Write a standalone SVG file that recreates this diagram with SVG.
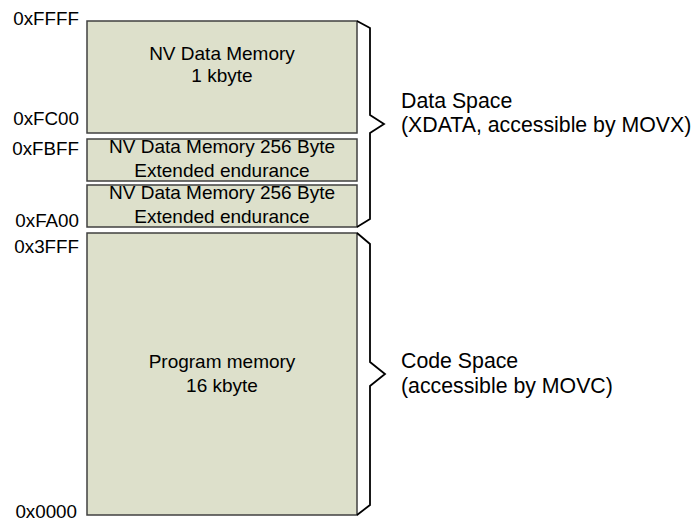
<svg xmlns="http://www.w3.org/2000/svg" width="696" height="523" viewBox="0 0 696 523">
<style>
.box{fill:#dde0cb;stroke:#404040;stroke-width:1.5}
.t{font-family:"Liberation Sans",Arial,sans-serif;fill:#000}
.bt{font-size:19px;text-anchor:middle}
.addr{font-size:18.8px;text-anchor:end}
.lbl{font-size:21.3px}
.brace{fill:none;stroke:#000;stroke-width:1.8;stroke-linejoin:miter}
</style>
<rect width="696" height="523" fill="#fff"/>
<g id="nv1k">
<rect class="box" x="87" y="21" width="270" height="112"/>
<text class="t bt" x="222" y="60">NV Data Memory</text>
<text class="t bt" x="222" y="82">1 kbyte</text>
</g>
<g id="nv256a">
<rect class="box" x="87" y="139" width="270" height="42"/>
<text class="t bt" x="222" y="153">NV Data Memory 256 Byte</text>
<text class="t bt" x="222" y="177">Extended endurance</text>
</g>
<g id="nv256b">
<rect class="box" x="87" y="185" width="270" height="42"/>
<text class="t bt" x="222" y="199">NV Data Memory 256 Byte</text>
<text class="t bt" x="222" y="223">Extended endurance</text>
</g>
<g id="prog">
<rect class="box" x="87" y="233" width="270" height="282"/>
<text class="t bt" x="222" y="368">Program memory</text>
<text class="t bt" x="222" y="392">16 kbyte</text>
</g>
<g id="addresses">
<text class="t addr" x="79" y="25">0xFFFF</text>
<text class="t addr" x="79" y="125">0xFC00</text>
<text class="t addr" x="79" y="155">0xFBFF</text>
<text class="t addr" x="79" y="227">0xFA00</text>
<text class="t addr" x="79" y="253">0x3FFF</text>
<text class="t addr" x="77" y="518">0x0000</text>
</g>
<g id="connectors">
<path class="brace" d="M357,21 L370,28 L370,115 L384,124 L370,133 L370,219 L357,227"/>
<path class="brace" d="M357,233 L370,244 L370,362 L385,374 L370,386 L370,505 L357,515"/>
</g>
<g id="data-space">
<text class="t lbl" x="401" y="108">Data Space</text>
<text class="t lbl" x="401" y="132">(XDATA, accessible by MOVX)</text>
</g>
<g id="code-space">
<text class="t lbl" x="401" y="368">Code Space</text>
<text class="t lbl" x="401" y="393">(accessible by MOVC)</text>
</g>
</svg>
